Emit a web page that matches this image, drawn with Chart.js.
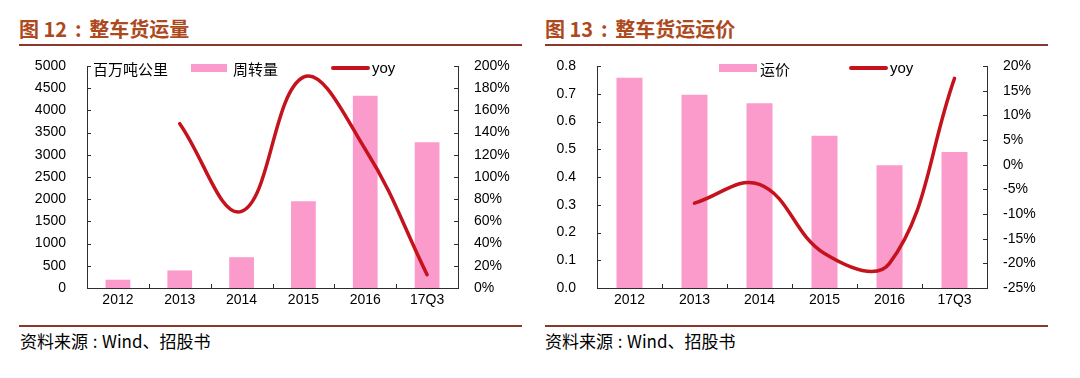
<!DOCTYPE html>
<html><head><meta charset="utf-8">
<script src="https://cdn.jsdelivr.net/npm/chart.js@4.4.0/dist/chart.umd.min.js"></script>
<style>
body{margin:0;width:1080px;height:378px;background:#fff;position:relative;overflow:hidden;font-family:"Liberation Sans",Arial,sans-serif}
.abs{position:absolute;white-space:nowrap}
.title{font-family:"Noto Sans CJK SC";font-weight:bold;font-size:20px;color:#AC4A1E;line-height:20px}
.title .c{display:inline-block;width:22px;text-align:center}
.rule{position:absolute;height:1.6px;background:#8A382B}
.src{font-family:"Noto Sans CJK SC";font-size:17px;line-height:17px;color:#000}
.src .c{display:inline-block;width:14px;text-align:center}
.cv{position:absolute;top:0}
.leg{font-family:"Noto Sans CJK SC";font-size:15px;line-height:15px;color:#000}
.legy{font-family:"Liberation Sans",Arial,sans-serif;font-size:15px;line-height:15px;color:#000}
.box{position:absolute;background:#FA9BCB}
.ln{position:absolute;background:#C5131D;border-radius:2px}
</style></head>
<body>
<div class="abs title" style="left:19px;top:19px">图 12<span class="c">:</span>整车货运量</div>
<div class="rule" style="left:19px;top:44px;width:503px"></div>
<div class="abs title" style="left:545px;top:19px">图 13<span class="c">:</span>整车货运运价</div>
<div class="rule" style="left:545px;top:44px;width:503px"></div>

<canvas id="c1" class="cv" style="left:0px" width="540" height="320"></canvas>
<canvas id="c2" class="cv" style="left:540px" width="540" height="320"></canvas>

<div class="abs leg" style="left:93px;top:61px">百万吨公里</div>
<div class="box" style="left:191px;top:64px;width:36px;height:8px"></div>
<div class="abs leg" style="left:233px;top:61px">周转量</div>
<div class="ln" style="left:331px;top:66px;width:39px;height:4px"></div>
<div class="abs legy" style="left:372px;top:60px">yoy</div>

<div class="box" style="left:719px;top:64px;width:38px;height:8px"></div>
<div class="abs leg" style="left:760px;top:61px">运价</div>
<div class="ln" style="left:849px;top:66px;width:39px;height:4px"></div>
<div class="abs legy" style="left:890px;top:60px">yoy</div>

<div class="rule" style="left:19px;top:325px;width:503px"></div>
<div class="rule" style="left:545px;top:325px;width:503px"></div>
<div class="abs src" style="left:20px;top:332px">资料来源<span class="c">:</span>Wind、招股书</div>
<div class="abs src" style="left:545px;top:332px">资料来源<span class="c">:</span>Wind、招股书</div>

<script>
// ---- data ----
const categories = ['2012', '2013', '2014', '2015', '2016', '17Q3'];
const volume = [187, 396, 694, 1955, 4328, 3284];          // 周转量, 百万吨公里
const volumeYoy = [null, 148, 69, 190, 125, 12];            // yoy %
const price = [0.758, 0.696, 0.666, 0.549, 0.442, 0.49];   // 运价
const priceYoy = [null, -7.8, -4.0, -18.0, -20.0, 17.5];   // yoy %
const volumeAxis = [0, 5000, 500];
const volumeYoyAxis = [0, 200, 20];
const priceAxis = [0, 0.8, 0.1];
const priceYoyAxis = [-25, 20, 5];

const BAR = '#FA9BCB', LINE = '#C5131D', AXIS = '#2E2E2E';
const tickFont = {family: '"Liberation Sans", Arial, sans-serif', size: 14};

const innerTicks = {
  id: 'innerTicks',
  afterDraw(chart) {
    const {ctx, chartArea: a, scales} = chart;
    const L = 4;
    ctx.save();
    ctx.strokeStyle = AXIS; ctx.lineWidth = 1;
    ctx.beginPath();
    scales.y.ticks.forEach(t => { const y = Math.round(scales.y.getPixelForValue(t.value)) + 0.5; ctx.moveTo(a.left, y); ctx.lineTo(a.left + L, y); });
    scales.y1.ticks.forEach(t => { const y = Math.round(scales.y1.getPixelForValue(t.value)) + 0.5; ctx.moveTo(a.right, y); ctx.lineTo(a.right - L, y); });
    const n = chart.data.labels.length;
    for (let i = 1; i < n; i++) { const x = Math.round(a.left + (a.right - a.left) * i / n) + 0.5; ctx.moveTo(x, a.bottom); ctx.lineTo(x, a.bottom - L); }
    ctx.stroke();
    ctx.restore();
  }
};

function makeChart(id, barData, barName, lineData, axL, axR, fmtL, fmtR, wL, wR) {
  return new Chart(document.getElementById(id), {
    data: {
      labels: categories,
      datasets: [
        {type: 'line', label: 'yoy', data: lineData, yAxisID: 'y1', borderColor: LINE, borderWidth: 3.5,
         tension: 0.4, pointRadius: 0, borderCapStyle: 'round', fill: false, order: 0},
        {type: 'bar', label: barName, data: barData, yAxisID: 'y', backgroundColor: BAR,
         categoryPercentage: 1, barPercentage: 0.4, order: 1}
      ]
    },
    options: {
      responsive: false, animation: false, devicePixelRatio: 1,
      layout: {padding: {top: 66, left: 0, right: 0, bottom: 0}},
      plugins: {legend: {display: false}, tooltip: {enabled: false}},
      scales: {
        x: {offset: true, grid: {display: false, drawTicks: false}, border: {display: true, color: AXIS, width: 1},
            ticks: {font: tickFont, color: '#000', padding: 4, maxRotation: 0, autoSkip: false},
            afterFit: s => { s.height = 32; }},
        y: {position: 'left', min: axL[0], max: axL[1], grid: {display: false, drawTicks: false},
            border: {display: true, color: AXIS, width: 1},
            ticks: {stepSize: axL[2], font: tickFont, color: '#000', padding: 21, callback: fmtL},
            afterFit: s => { s.width = wL; }},
        y1: {position: 'right', min: axR[0], max: axR[1], grid: {display: false, drawTicks: false},
             border: {display: true, color: AXIS, width: 1},
             ticks: {stepSize: axR[2], font: tickFont, color: '#000', padding: 16, callback: fmtR},
             afterFit: s => { s.width = wR; }}
      }
    },
    plugins: [innerTicks]
  });
}

makeChart('c1', volume, '周转量', volumeYoy, volumeAxis, volumeYoyAxis,
  v => String(Math.round(v)), v => Math.round(v) + '%', 87, 82);
makeChart('c2', price, '运价', priceYoy, priceAxis, priceYoyAxis,
  v => Number(v).toFixed(1), v => Math.round(v) + '%', 57, 93);
</script>
</body></html>
